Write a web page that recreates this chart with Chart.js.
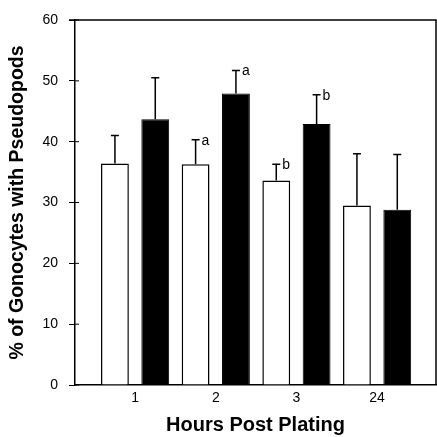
<!DOCTYPE html>
<html>
<head>
<meta charset="utf-8">
<script src="https://cdn.jsdelivr.net/npm/chart.js@4"></script>
<style>
    html, body { margin: 0; padding: 0; background: #fff; }
    #wrap { width: 437px; height: 437px; }
</style>
</head>
<body>
<div id="wrap"><canvas id="pseudopodChart" width="437" height="437"></canvas></div>
<script>
const HOURS = ['1', '2', '3', '24'];
const OPEN_VALUES = [36.4, 36.3, 33.6, 29.5];
const OPEN_ERR = [4.6, 4.0, 2.7, 8.5];
const OPEN_SIG = ['', 'a', 'b', ''];
const FILLED_VALUES = [43.7, 47.9, 42.9, 28.8];
const FILLED_ERR = [6.8, 3.8, 4.8, 9.1];
const FILLED_SIG = ['', 'a', 'b', ''];
const Y_TICKS = [0, 10, 20, 30, 40, 50, 60];

const FONT = '"Liberation Sans", Arial, Helvetica, sans-serif';

function toPoints(values) {
    return values.map((v, i) => ({ x: i + 1, y: v }));
}

// upper error bars + significance letters, frame on top/right
const errorBars = {
    id: 'errorBars',
    afterDatasetsDraw(chart) {
        const ctx = chart.ctx;
        const yScale = chart.scales.y;
        const errs = [OPEN_ERR, FILLED_ERR];
        const sigs = [OPEN_SIG, FILLED_SIG];
        const vals = [OPEN_VALUES, FILLED_VALUES];
        ctx.save();
        ctx.strokeStyle = '#000';
        ctx.fillStyle = '#000';
        ctx.lineWidth = 1.5;
        ctx.font = '14px ' + FONT;
        ctx.textBaseline = 'middle';
        chart.data.datasets.forEach((ds, di) => {
            const meta = chart.getDatasetMeta(di);
            meta.data.forEach((bar, i) => {
                const top = yScale.getPixelForValue(vals[di][i] + errs[di][i]);
                ctx.beginPath();
                ctx.moveTo(bar.x, bar.y);
                ctx.lineTo(bar.x, top);
                ctx.moveTo(bar.x - 4, top);
                ctx.lineTo(bar.x + 4, top);
                ctx.stroke();
                if (sigs[di][i]) ctx.fillText(sigs[di][i], bar.x + 6, top + 1);
            });
        });
        const a = chart.chartArea;
        ctx.lineWidth = 1.5;
        ctx.beginPath();
        ctx.moveTo(a.left - 6, a.top);
        ctx.lineTo(a.right, a.top);
        ctx.lineTo(a.right, a.bottom);
        ctx.stroke();
        // inner half of y tick marks
        ctx.lineWidth = 1;
        Y_TICKS.forEach(t => {
            const y = yScale.getPixelForValue(t);
            ctx.beginPath();
            ctx.moveTo(a.left, y);
            ctx.lineTo(a.left + 4, y);
            ctx.stroke();
        });
        ctx.restore();
    }
};

const canvas = document.getElementById('pseudopodChart');
new Chart(canvas.getContext('2d'), {
    type: 'bar',
    data: {
        datasets: [{
            label: 'Open',
            data: toPoints(OPEN_VALUES),
            backgroundColor: '#fff',
            borderColor: '#000',
            borderWidth: 1.5
        }, {
            label: 'Filled',
            data: toPoints(FILLED_VALUES),
            backgroundColor: '#000',
            borderColor: '#000',
            borderWidth: 1
        }]
    },
    options: {
        responsive: false,
        animation: false,
        events: [],
        barPercentage: 0.69,
        categoryPercentage: 1.0,
        layout: { padding: { top: 20, right: 1, left: 0, bottom: 0 } },
        plugins: {
            legend: { display: false },
            tooltip: { enabled: false }
        },
        scales: {
            x: {
                type: 'linear',
                offset: false,
                min: 0.255,
                max: 4.73,
                afterBuildTicks(scale) {
                    scale.ticks = HOURS.map((h, i) => ({ value: i + 1 }));
                },
                afterFit(scale) { scale.height = 52; },
                ticks: {
                    color: '#000',
                    font: { family: FONT, size: 14 },
                    padding: 5,
                    maxRotation: 0,
                    callback: (v) => HOURS[v - 1] ?? ''
                },
                grid: { display: true, offset: false, drawOnChartArea: false, drawTicks: false },
                border: { color: '#000', width: 1.5 },
                title: {
                    display: true,
                    text: 'Hours Post Plating',
                    color: '#000',
                    font: { family: FONT, size: 20, weight: 'bold' },
                    padding: 0
                }
            },
            y: {
                min: 0,
                max: 60,
                afterBuildTicks(scale) {
                    scale.ticks = Y_TICKS.map(v => ({ value: v }));
                },
                afterFit(scale) { scale.width = 75; },
                ticks: {
                    color: '#000',
                    font: { family: FONT, size: 14 },
                    padding: 11
                },
                grid: { drawOnChartArea: false, drawTicks: true, tickLength: 6, color: '#000' },
                border: { color: '#000', width: 1.5 },
                title: {
                    display: true,
                    text: '% of Gonocytes with Pseudopods',
                    color: '#000',
                    font: { family: FONT, size: 19.5, weight: 'bold' },
                    padding: { top: 6 }
                }
            }
        }
    },
    plugins: [errorBars]
});
</script>
</body>
</html>
